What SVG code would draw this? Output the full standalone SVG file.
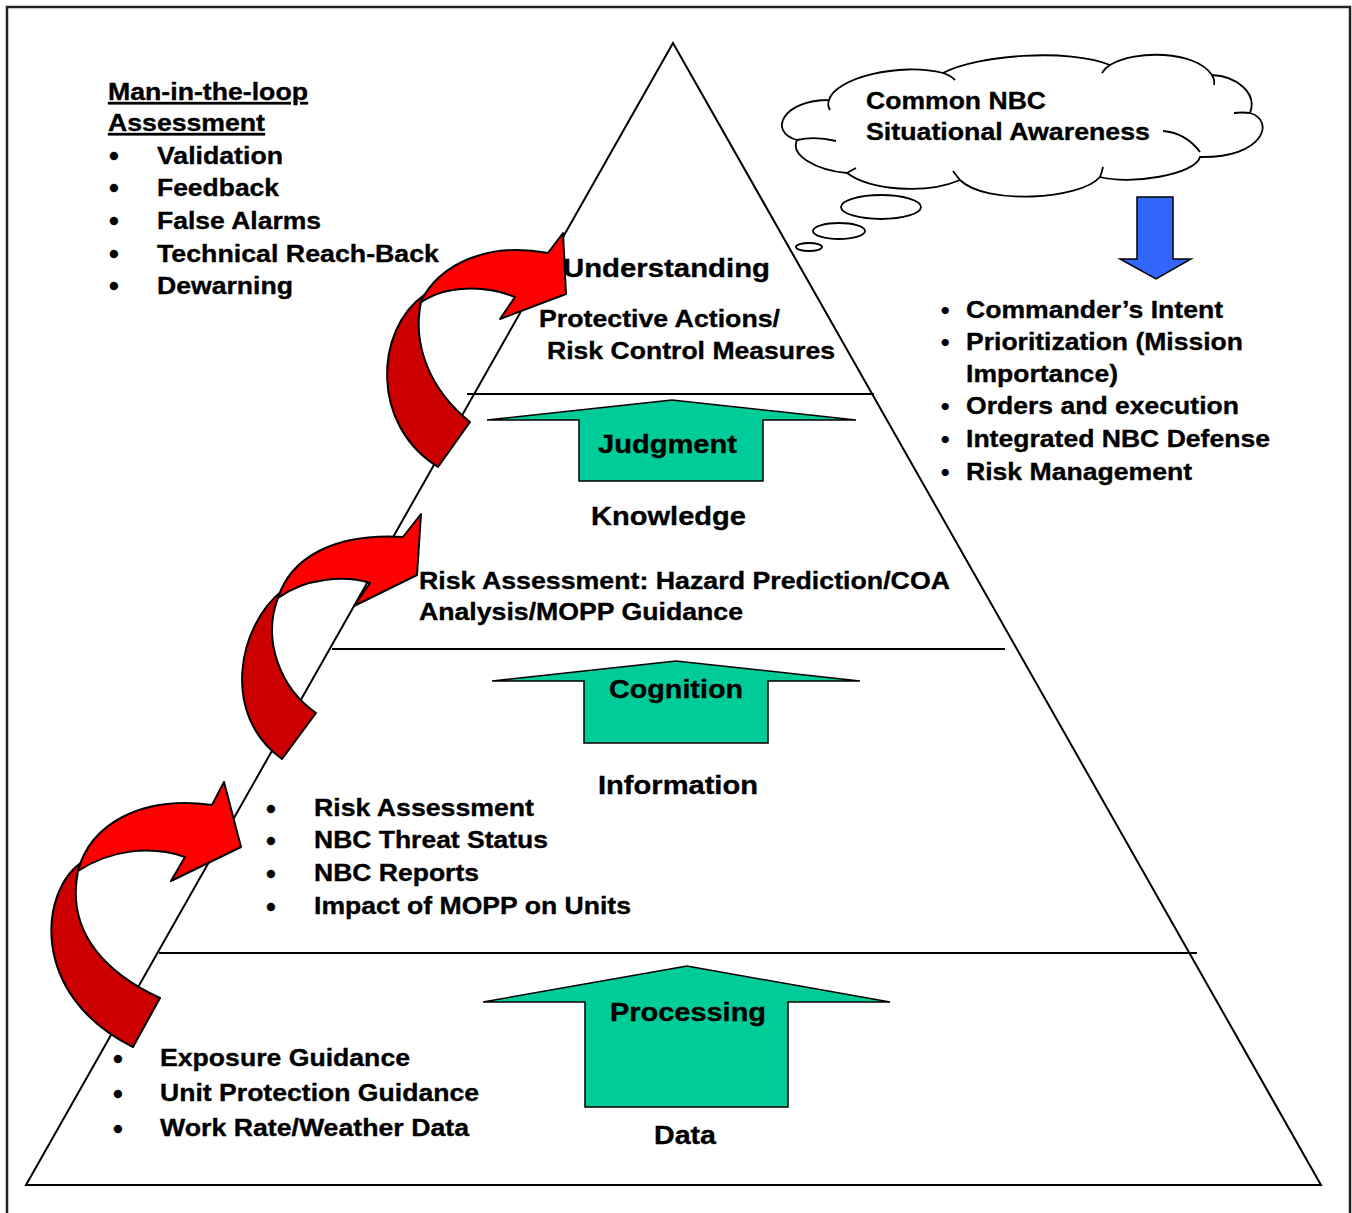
<svg xmlns="http://www.w3.org/2000/svg" width="1352" height="1213" viewBox="0 0 1352 1213">
<style>
.t{font-family:"Liberation Sans",Arial,sans-serif;font-weight:bold;fill:#000;stroke:#000;stroke-width:0.35}
.l{font-size:24px}
.h{font-size:26px}
.b{font-size:28px}
.ln{stroke:#000;stroke-width:2;fill:none}
.grn{fill:#00CC99;stroke:#000;stroke-width:1.5}
.dk{fill:#CC0000;stroke:#000;stroke-width:2;stroke-linejoin:round}
.rd{fill:#FF0000;stroke:#000;stroke-width:2;stroke-linejoin:round}
.cl{fill:#fff;stroke:#000;stroke-width:1.8}
.ci{fill:none;stroke:#000;stroke-width:1.8}
</style>
<rect x="0" y="0" width="1352" height="1213" fill="#fff"/>
<rect x="7" y="7" width="1343" height="1212" fill="none" stroke="#222" stroke-width="2.5"/>

<g id="pyramid">
<polygon class="ln" points="673,43 26,1185 1321,1185"/>
<line class="ln" x1="467" y1="394" x2="874" y2="394"/>
<line class="ln" x1="332" y1="649" x2="1005" y2="649"/>
<line class="ln" x1="159" y1="953" x2="1197" y2="953"/>
</g>

<g id="assessment-list">
<text class="t l" x="108" y="100" textLength="200" lengthAdjust="spacingAndGlyphs" text-decoration="underline">Man-in-the-loop</text>
<text class="t l" x="108" y="131" textLength="157" lengthAdjust="spacingAndGlyphs" text-decoration="underline">Assessment</text>
<text class="t b" x="109" y="165">•</text>
<text class="t b" x="109" y="197">•</text>
<text class="t b" x="109" y="230">•</text>
<text class="t b" x="109" y="263">•</text>
<text class="t b" x="109" y="295">•</text>
<text class="t l" x="157" y="164" textLength="126" lengthAdjust="spacingAndGlyphs">Validation</text>
<text class="t l" x="157" y="196" textLength="122" lengthAdjust="spacingAndGlyphs">Feedback</text>
<text class="t l" x="157" y="229" textLength="164" lengthAdjust="spacingAndGlyphs">False Alarms</text>
<text class="t l" x="157" y="262" textLength="282" lengthAdjust="spacingAndGlyphs">Technical Reach-Back</text>
<text class="t l" x="157" y="294" textLength="136" lengthAdjust="spacingAndGlyphs">Dewarning</text>
</g>

<g id="cloud">
<path class="cl" d="M829,100 C835,78 900,62 943,73 C975,55 1070,48 1110,65 C1135,50 1195,50 1212,75 C1235,76 1258,92 1250,113 C1275,120 1265,158 1200,157 C1195,175 1130,185 1100,177 C1080,200 985,205 960,180 C925,195 870,190 847,173 C815,170 790,155 797,140 C768,132 782,100 829,100 Z"/>
<path class="ci" d="M1163,131 Q1186,133 1200,152"/>
<path class="ci" d="M797,140 Q815,136 836,141"/>
<path class="ci" d="M829,100 Q827,105 830,110"/>
<path class="ci" d="M943,73 Q950,75 955,80"/>
<path class="ci" d="M1110,65 Q1105,68 1102,73"/>
<path class="ci" d="M1212,75 Q1215,80 1214,85"/>
<path class="ci" d="M1250,113 Q1242,112 1234,113"/>
<path class="ci" d="M1100,177 Q1102,172 1103,167"/>
<path class="ci" d="M960,180 Q956,175 953,171"/>
<path class="ci" d="M847,173 Q852,170 856,168"/>
<ellipse class="cl" cx="881" cy="207" rx="40" ry="12"/>
<ellipse class="cl" cx="839" cy="231" rx="26" ry="8"/>
<ellipse class="cl" cx="809" cy="247" rx="13" ry="4"/>
<text class="t l" x="866" y="109" textLength="180" lengthAdjust="spacingAndGlyphs">Common NBC</text>
<text class="t l" x="866" y="140" textLength="284" lengthAdjust="spacingAndGlyphs">Situational Awareness</text>
</g>

<g id="blue-arrow">
<polygon fill="#3366FF" stroke="#000" stroke-width="1.5" points="1137,197 1173,197 1173,259 1191,259 1156,279 1120,259 1137,259"/>
</g>

<g id="commander-list">
<text class="t l" x="941" y="318">•</text>
<text class="t l" x="941" y="350">•</text>
<text class="t l" x="941" y="414">•</text>
<text class="t l" x="941" y="447">•</text>
<text class="t l" x="941" y="480">•</text>
<text class="t l" x="966" y="318" textLength="257" lengthAdjust="spacingAndGlyphs">Commander’s Intent</text>
<text class="t l" x="966" y="350" textLength="277" lengthAdjust="spacingAndGlyphs">Prioritization (Mission</text>
<text class="t l" x="966" y="382" textLength="152" lengthAdjust="spacingAndGlyphs">Importance)</text>
<text class="t l" x="966" y="414" textLength="273" lengthAdjust="spacingAndGlyphs">Orders and execution</text>
<text class="t l" x="966" y="447" textLength="304" lengthAdjust="spacingAndGlyphs">Integrated NBC Defense</text>
<text class="t l" x="966" y="480" textLength="226" lengthAdjust="spacingAndGlyphs">Risk Management</text>
</g>

<g id="understanding">
<text class="t h" x="563" y="277" textLength="207" lengthAdjust="spacingAndGlyphs">Understanding</text>
<text class="t l" x="539" y="327" textLength="241" lengthAdjust="spacingAndGlyphs">Protective Actions/</text>
<text class="t l" x="547" y="359" textLength="288" lengthAdjust="spacingAndGlyphs">Risk Control Measures</text>
</g>

<g id="judgment">
<polygon class="grn" points="487,420 672,400 856,420 763,420 763,481 579,481 579,420"/>
<text class="t h" x="598" y="453" textLength="139" lengthAdjust="spacingAndGlyphs">Judgment</text>
</g>

<g id="knowledge">
<text class="t h" x="591" y="525" textLength="155" lengthAdjust="spacingAndGlyphs">Knowledge</text>
<text class="t l" x="419" y="589" textLength="531" lengthAdjust="spacingAndGlyphs">Risk Assessment: Hazard Prediction/COA</text>
<text class="t l" x="419" y="620" textLength="324" lengthAdjust="spacingAndGlyphs">Analysis/MOPP Guidance</text>
</g>

<g id="cognition">
<polygon class="grn" points="492,681 676,661 860,681 768,681 768,743 584,743 584,681"/>
<text class="t h" x="609" y="698" textLength="134" lengthAdjust="spacingAndGlyphs">Cognition</text>
</g>

<g id="information">
<text class="t h" x="598" y="794" textLength="160" lengthAdjust="spacingAndGlyphs">Information</text>
<text class="t b" x="266" y="818">•</text>
<text class="t b" x="266" y="850">•</text>
<text class="t b" x="266" y="883">•</text>
<text class="t b" x="266" y="916">•</text>
<text class="t l" x="314" y="816" textLength="220" lengthAdjust="spacingAndGlyphs">Risk Assessment</text>
<text class="t l" x="314" y="848" textLength="234" lengthAdjust="spacingAndGlyphs">NBC Threat Status</text>
<text class="t l" x="314" y="881" textLength="165" lengthAdjust="spacingAndGlyphs">NBC Reports</text>
<text class="t l" x="314" y="914" textLength="317" lengthAdjust="spacingAndGlyphs">Impact of MOPP on Units</text>
</g>

<g id="processing">
<polygon class="grn" points="483,1002 687,966 890,1002 788,1002 788,1107 585,1107 585,1002"/>
<text class="t h" x="610" y="1021" textLength="156" lengthAdjust="spacingAndGlyphs">Processing</text>
</g>

<g id="data">
<text class="t h" x="654" y="1144" textLength="62" lengthAdjust="spacingAndGlyphs">Data</text>
<text class="t b" x="113" y="1068">•</text>
<text class="t b" x="113" y="1103">•</text>
<text class="t b" x="113" y="1138">•</text>
<text class="t l" x="160" y="1066" textLength="250" lengthAdjust="spacingAndGlyphs">Exposure Guidance</text>
<text class="t l" x="160" y="1101" textLength="319" lengthAdjust="spacingAndGlyphs">Unit Protection Guidance</text>
<text class="t l" x="160" y="1136" textLength="309" lengthAdjust="spacingAndGlyphs">Work Rate/Weather Data</text>
</g>

<g id="connectors">
<g id="loop-arrow-1">
<path class="dk" d="M424,295 C375,330 370,425 438,467 L470,422 C430,390 412,345 421,302 Z"/>
<path class="rd" d="M420,303 C440,262 490,242 548,253 L563,233 L566,294 L500,319 L515,297 C485,285 445,285 420,303 Z"/>
</g>
<g id="loop-arrow-2">
<path class="dk" d="M283,590 C238,625 220,715 282,759 L316,713 C280,688 262,640 278,598 Z"/>
<path class="rd" d="M278,598 C290,560 330,533 403,537 L421,514 L417,575 L354,606 L370,583 C345,575 305,578 278,598 Z"/>
</g>
<g id="loop-arrow-3">
<path class="dk" d="M82,862 C40,890 28,995 133,1047 L160,998 C110,975 65,935 78,871 Z"/>
<path class="rd" d="M78,871 C90,825 140,795 212,805 L224,782 L241,847 L171,881 L185,857 C150,845 110,850 78,871 Z"/>
</g>
</g>
</svg>
